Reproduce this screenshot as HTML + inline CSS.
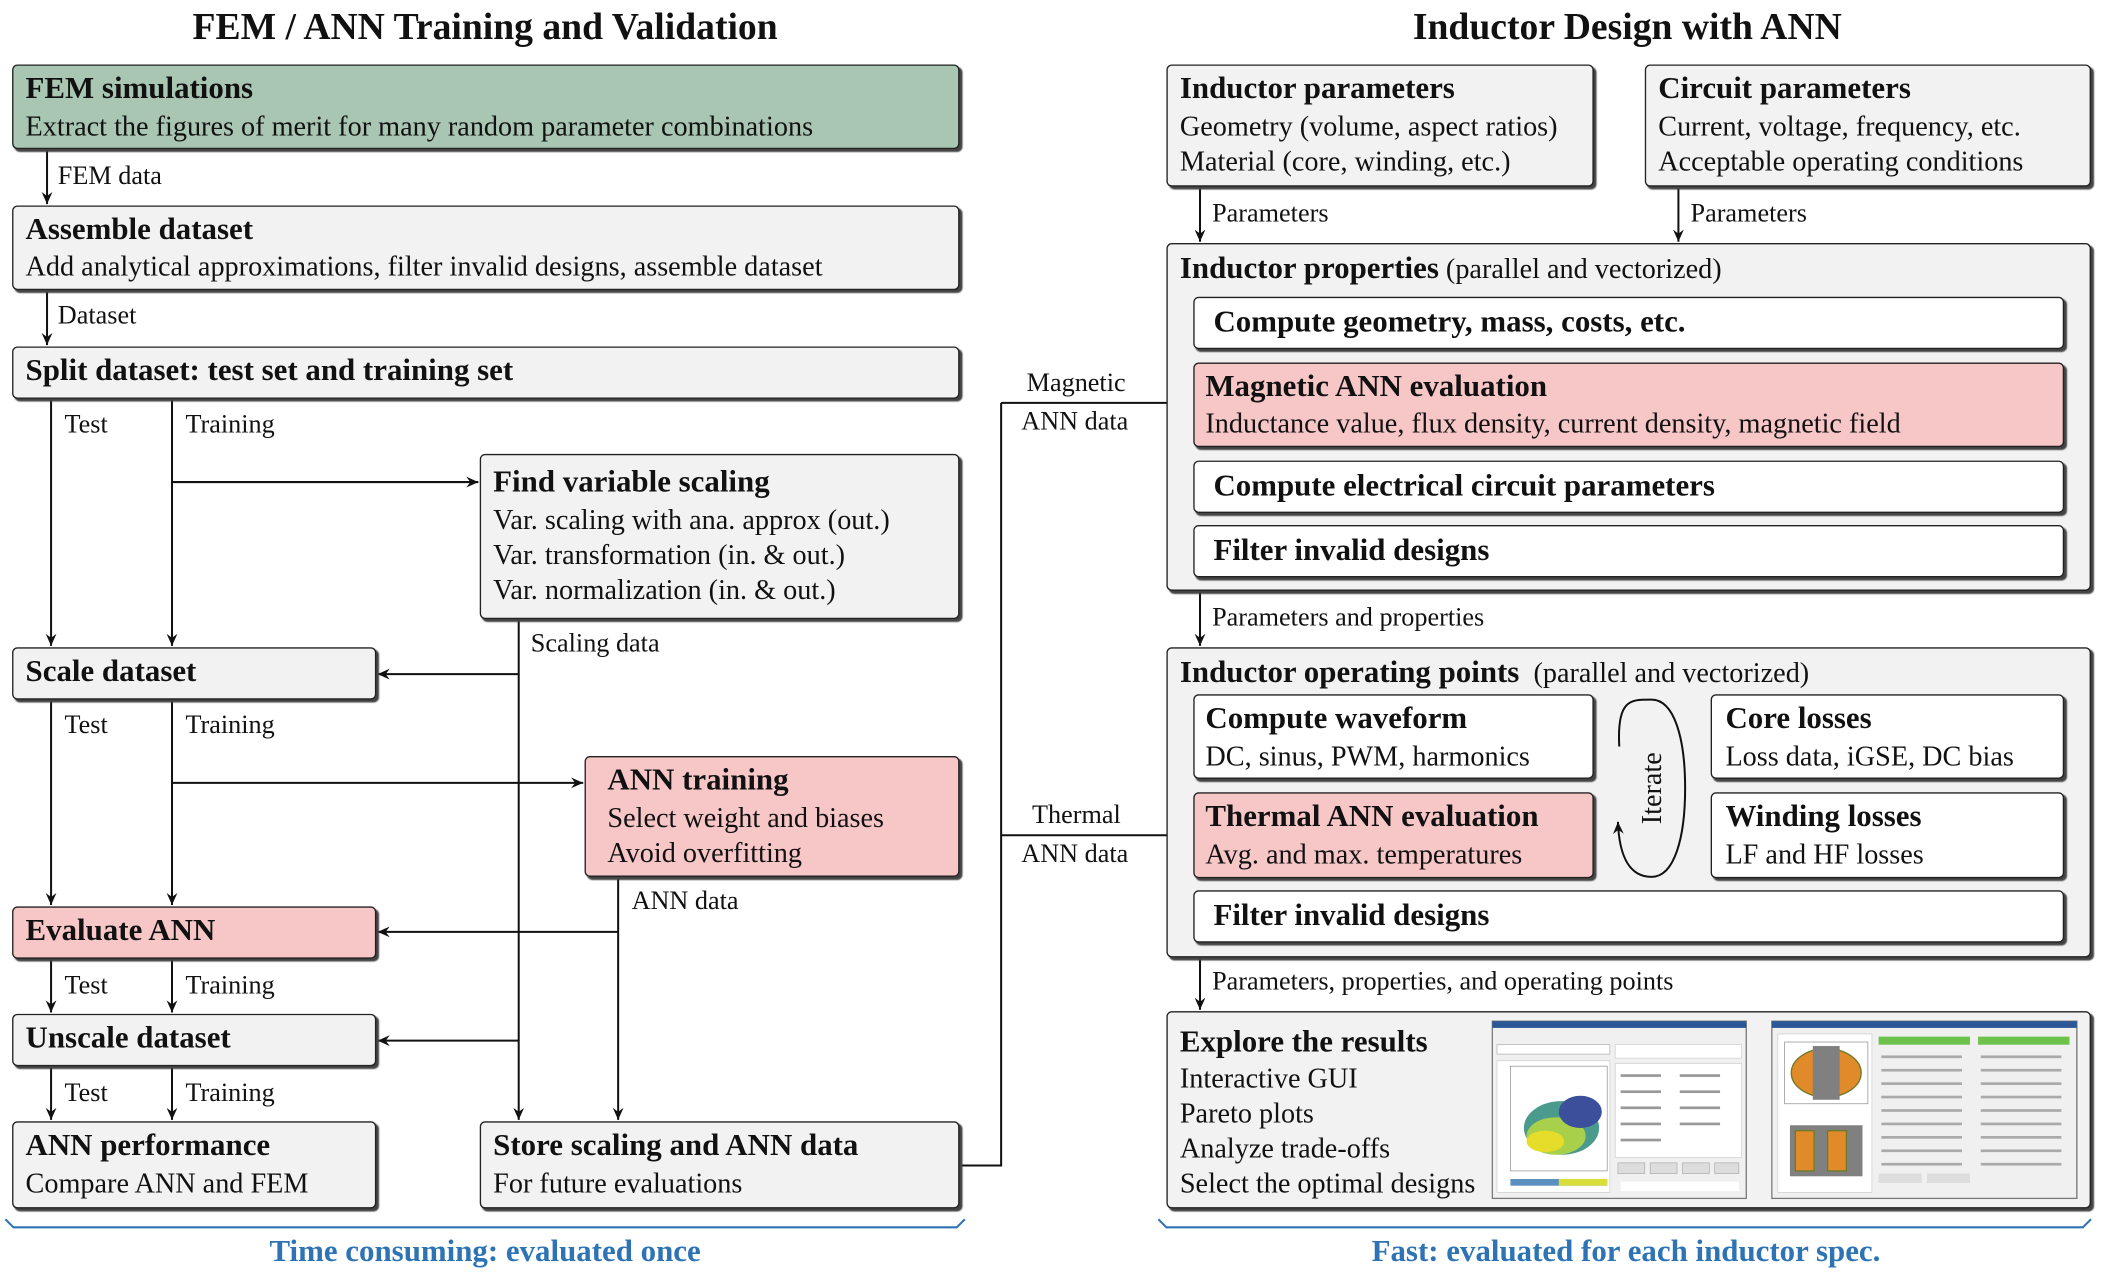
<!DOCTYPE html>
<html><head><meta charset="utf-8"><style>
html,body{margin:0;padding:0;background:#fff;width:2103px;height:1273px;overflow:hidden}
#w{position:absolute;left:0;top:0;width:1565px;height:948px;transform:scale(1.3438,1.3428);transform-origin:0 0;font-family:"Liberation Serif",serif;color:#111}
.b{position:absolute;border:1.5px solid #222;border-radius:4px;box-sizing:border-box;background:#f2f2f2;box-shadow:2px 2px 1px #444}
.g{background:#a9c6b2}.p{background:#f7c6c7}.wh{background:#fff}
.t{position:absolute;white-space:nowrap;font-size:21px;line-height:24px}
.h{font-weight:bold;font-size:23px}
.l{position:absolute;white-space:nowrap;font-size:19.5px;line-height:22px}
.T{position:absolute;font-weight:bold;font-size:28px;white-space:nowrap;text-align:center}
.bl{color:#2e74b5;font-weight:bold;font-size:23px}
svg{position:absolute;left:0;top:0}
</style></head><body><div id="w">
<svg width="1565" height="948" viewBox="0 0 1565 948">
<defs><marker id="a" markerWidth="10" markerHeight="10" refX="9" refY="5" orient="auto" markerUnits="userSpaceOnUse"><path d="M0,1 L9,5 L0,9 L3,5z" fill="#111"/></marker></defs>
<g stroke="#111" stroke-width="1.5" fill="none">
<line x1="35" y1="111" x2="35" y2="152" marker-end="url(#a)"/>
<line x1="35" y1="216" x2="35" y2="257" marker-end="url(#a)"/>
<line x1="38" y1="297" x2="38" y2="481" marker-end="url(#a)"/>
<line x1="128" y1="297" x2="128" y2="481" marker-end="url(#a)"/>
<line x1="128" y1="359" x2="356" y2="359" marker-end="url(#a)"/>
<line x1="386" y1="461" x2="386" y2="834" marker-end="url(#a)"/>
<line x1="386" y1="502" x2="281" y2="502" marker-end="url(#a)"/>
<line x1="386" y1="775" x2="281" y2="775" marker-end="url(#a)"/>
<line x1="38" y1="521" x2="38" y2="674" marker-end="url(#a)"/>
<line x1="128" y1="521" x2="128" y2="674" marker-end="url(#a)"/>
<line x1="128" y1="583" x2="434" y2="583" marker-end="url(#a)"/>
<line x1="460" y1="653" x2="460" y2="834" marker-end="url(#a)"/>
<line x1="460" y1="694" x2="281" y2="694" marker-end="url(#a)"/>
<line x1="38" y1="714" x2="38" y2="754" marker-end="url(#a)"/>
<line x1="128" y1="714" x2="128" y2="754" marker-end="url(#a)"/>
<line x1="38" y1="794" x2="38" y2="834" marker-end="url(#a)"/>
<line x1="128" y1="794" x2="128" y2="834" marker-end="url(#a)"/>
<polyline points="714,868 745,868 745,300"/>
<line x1="745" y1="300" x2="887" y2="300" marker-end="url(#a)"/>
<line x1="745" y1="622" x2="887" y2="622" marker-end="url(#a)"/>
<line x1="893" y1="139" x2="893" y2="180" marker-end="url(#a)"/>
<line x1="1249" y1="139" x2="1249" y2="180" marker-end="url(#a)"/>
<line x1="893" y1="440" x2="893" y2="481" marker-end="url(#a)"/>
<line x1="893" y1="713" x2="893" y2="752" marker-end="url(#a)"/>
</g>
<g stroke="#2e74b5" stroke-width="1.5" fill="none">
<path d="M4,908 L10,914 L712,914 L718,908"/>
<path d="M862,908 L868,914 L1550,914 L1556,908"/>
</g>
</svg>

<div class="T" style="left:0;width:722px;top:5px">FEM / ANN Training and Validation</div>
<div class="T" style="left:860px;width:702px;top:5px">Inductor Design with ANN</div>

<div class="b g" style="left:9px;top:48px;width:705px;height:63px"></div>
<div class="t h" style="left:19px;top:54px">FEM simulations</div>
<div class="t" style="left:19px;top:82px">Extract the figures of merit for many random parameter combinations</div>
<div class="l" style="left:43px;top:121px">FEM data</div>

<div class="b" style="left:9px;top:153px;width:705px;height:63px"></div>
<div class="t h" style="left:19px;top:159px">Assemble dataset</div>
<div class="t" style="left:19px;top:186px">Add analytical approximations, filter invalid designs, assemble dataset</div>
<div class="l" style="left:43px;top:225px">Dataset</div>

<div class="b" style="left:9px;top:258px;width:705px;height:39px"></div>
<div class="t h" style="left:19px;top:264px">Split dataset: test set and training set</div>
<div class="l" style="left:48px;top:306px">Test</div><div class="l" style="left:138px;top:306px">Training</div>

<div class="b" style="left:357px;top:338px;width:357px;height:123px"></div>
<div class="t h" style="left:367px;top:347px">Find variable scaling</div>
<div class="t" style="left:367px;top:375px">Var. scaling with ana. approx (out.)</div>
<div class="t" style="left:367px;top:401px">Var. transformation (in. &amp; out.)</div>
<div class="t" style="left:367px;top:427px">Var. normalization (in. &amp; out.)</div>
<div class="l" style="left:395px;top:469px">Scaling data</div>

<div class="b" style="left:9px;top:482px;width:271px;height:39px"></div>
<div class="t h" style="left:19px;top:488px">Scale dataset</div>
<div class="l" style="left:48px;top:530px">Test</div><div class="l" style="left:138px;top:530px">Training</div>

<div class="b p" style="left:435px;top:563px;width:279px;height:90px"></div>
<div class="t h" style="left:452px;top:569px">ANN training</div>
<div class="t" style="left:452px;top:597px">Select weight and biases</div>
<div class="t" style="left:452px;top:623px">Avoid overfitting</div>
<div class="l" style="left:470px;top:661px">ANN data</div>

<div class="b p" style="left:9px;top:675px;width:271px;height:39px"></div>
<div class="t h" style="left:19px;top:681px">Evaluate ANN</div>
<div class="l" style="left:48px;top:724px">Test</div><div class="l" style="left:138px;top:724px">Training</div>

<div class="b" style="left:9px;top:755px;width:271px;height:39px"></div>
<div class="t h" style="left:19px;top:761px">Unscale dataset</div>
<div class="l" style="left:48px;top:804px">Test</div><div class="l" style="left:138px;top:804px">Training</div>

<div class="b" style="left:9px;top:835px;width:271px;height:65px"></div>
<div class="t h" style="left:19px;top:841px">ANN performance</div>
<div class="t" style="left:19px;top:869px">Compare ANN and FEM</div>

<div class="b" style="left:357px;top:835px;width:357px;height:65px"></div>
<div class="t h" style="left:367px;top:841px">Store scaling and ANN data</div>
<div class="t" style="left:367px;top:869px">For future evaluations</div>

<div class="l" style="left:764px;top:275px">Magnetic</div>
<div class="l" style="left:760px;top:304px">ANN data</div>
<div class="l" style="left:768px;top:597px">Thermal</div>
<div class="l" style="left:760px;top:626px">ANN data</div>

<div class="t bl" style="left:0;width:722px;text-align:center;top:920px">Time consuming: evaluated once</div>
<div class="t bl" style="left:860px;width:700px;text-align:center;top:920px">Fast: evaluated for each inductor spec.</div>

<!-- right -->
<div class="b" style="left:868px;top:48px;width:318px;height:91px"></div>
<div class="t h" style="left:878px;top:54px">Inductor parameters</div>
<div class="t" style="left:878px;top:82px">Geometry (volume, aspect ratios)</div>
<div class="t" style="left:878px;top:108px">Material (core, winding, etc.)</div>
<div class="b" style="left:1224px;top:48px;width:332px;height:91px"></div>
<div class="t h" style="left:1234px;top:54px">Circuit parameters</div>
<div class="t" style="left:1234px;top:82px">Current, voltage, frequency, etc.</div>
<div class="t" style="left:1234px;top:108px">Acceptable operating conditions</div>
<div class="l" style="left:902px;top:149px">Parameters</div>
<div class="l" style="left:1258px;top:149px">Parameters</div>

<div class="b" style="left:868px;top:181px;width:688px;height:259px"></div>
<div class="t" style="left:878px;top:188px"><b style="font-size:23px">Inductor properties</b> (parallel and vectorized)</div>
<div class="b wh" style="left:888px;top:221px;width:648px;height:39px"></div>
<div class="t h" style="left:903px;top:228px">Compute geometry, mass, costs, etc.</div>
<div class="b p" style="left:888px;top:270px;width:648px;height:63px"></div>
<div class="t h" style="left:897px;top:276px">Magnetic ANN evaluation</div>
<div class="t" style="left:897px;top:303px">Inductance value, flux density, current density, magnetic field</div>
<div class="b wh" style="left:888px;top:343px;width:648px;height:39px"></div>
<div class="t h" style="left:903px;top:350px">Compute electrical circuit parameters</div>
<div class="b wh" style="left:888px;top:391px;width:648px;height:39px"></div>
<div class="t h" style="left:903px;top:398px">Filter invalid designs</div>
<div class="l" style="left:902px;top:450px">Parameters and properties</div>

<div class="b" style="left:868px;top:482px;width:688px;height:231px"></div>
<div class="t" style="left:878px;top:489px"><b style="font-size:23px">Inductor operating points</b>&nbsp; (parallel and vectorized)</div>
<div class="b wh" style="left:888px;top:517px;width:298px;height:63px"></div>
<div class="t h" style="left:897px;top:523px">Compute waveform</div>
<div class="t" style="left:897px;top:551px">DC, sinus, PWM, harmonics</div>
<div class="b wh" style="left:1273px;top:517px;width:263px;height:63px"></div>
<div class="t h" style="left:1284px;top:523px">Core losses</div>
<div class="t" style="left:1284px;top:551px">Loss data, iGSE, DC bias</div>
<div class="b p" style="left:888px;top:590px;width:298px;height:64px"></div>
<div class="t h" style="left:897px;top:596px">Thermal ANN evaluation</div>
<div class="t" style="left:897px;top:624px">Avg. and max. temperatures</div>
<div class="b wh" style="left:1273px;top:590px;width:263px;height:64px"></div>
<div class="t h" style="left:1284px;top:596px">Winding losses</div>
<div class="t" style="left:1284px;top:624px">LF and HF losses</div>
<div class="b wh" style="left:888px;top:663px;width:648px;height:39px"></div>
<div class="t h" style="left:903px;top:670px">Filter invalid designs</div>
<svg width="1565" height="948" viewBox="0 0 1565 948">
<defs><marker id="a2" markerWidth="10" markerHeight="10" refX="9" refY="5" orient="auto" markerUnits="userSpaceOnUse"><path d="M0,1 L9,5 L0,9 L3,5z" fill="#111"/></marker></defs>
<path d="M1205,556 C1203,520 1214,521 1229,521 C1246,521 1254,550 1254,587 C1254,624 1246,653 1229,653 C1214,653 1205,640 1204,612" stroke="#111" stroke-width="1.5" fill="none" marker-end="url(#a2)"/>
</svg>
<div class="t" style="left:1189px;top:575px;width:80px;text-align:center;transform:rotate(-90deg);font-size:21px">Iterate</div>
<div class="l" style="left:902px;top:721px">Parameters, properties, and operating points</div>

<div class="b" style="left:868px;top:753px;width:688px;height:147px"></div>
<div class="t h" style="left:878px;top:764px">Explore the results</div>
<div class="t" style="left:878px;top:791px">Interactive GUI</div>
<div class="t" style="left:878px;top:817px">Pareto plots</div>
<div class="t" style="left:878px;top:843px">Analyze trade-offs</div>
<div class="t" style="left:878px;top:869px">Select the optimal designs</div>

<svg style="left:1110px;top:760px" width="190" height="133" viewBox="0 0 190 133">
<rect x="0.5" y="0.5" width="189" height="132" fill="#f0f0f0" stroke="#777"/>
<rect x="0.5" y="0.5" width="189" height="5" fill="#2b5797"/>
<rect x="4" y="18" width="84" height="7" fill="#fff" stroke="#aaa" stroke-width=".5"/>
<rect x="4" y="30" width="84" height="98" fill="#fff" stroke="#ccc" stroke-width=".5"/>
<rect x="14" y="34" width="72" height="78" fill="#fff" stroke="#888" stroke-width=".5"/>
<ellipse cx="52" cy="80" rx="28" ry="20" fill="#4a9a8e"/>
<ellipse cx="48" cy="86" rx="22" ry="14" fill="#a8d04a"/>
<ellipse cx="40" cy="90" rx="14" ry="8" fill="#e6dd2a"/>
<ellipse cx="66" cy="68" rx="16" ry="12" fill="#3b4f9a"/>
<rect x="14" y="118" width="72" height="5" fill="#5a8fc0"/>
<rect x="50" y="118" width="36" height="5" fill="#d8de3a"/>
<rect x="92" y="18" width="94" height="10" fill="#fff" stroke="#ccc" stroke-width=".5"/>
<rect x="92" y="32" width="94" height="70" fill="#fff" stroke="#ccc" stroke-width=".5"/>
<g fill="#999"><rect x="96" y="40" width="30" height="2"/><rect x="140" y="40" width="30" height="2"/><rect x="96" y="52" width="30" height="2"/><rect x="140" y="52" width="30" height="2"/><rect x="96" y="64" width="30" height="2"/><rect x="140" y="64" width="30" height="2"/><rect x="96" y="76" width="30" height="2"/><rect x="140" y="76" width="30" height="2"/><rect x="96" y="88" width="30" height="2"/></g>
<g fill="#ddd" stroke="#aaa" stroke-width=".5"><rect x="94" y="106" width="20" height="8"/><rect x="118" y="106" width="20" height="8"/><rect x="142" y="106" width="20" height="8"/><rect x="166" y="106" width="18" height="8"/></g>
<rect x="96" y="120" width="88" height="7" fill="#fff"/>
</svg>
<svg style="left:1318px;top:760px" width="228" height="133" viewBox="0 0 228 133">
<rect x="0.5" y="0.5" width="227" height="132" fill="#f0f0f0" stroke="#777"/>
<rect x="0.5" y="0.5" width="227" height="5" fill="#2b5797"/>
<rect x="5" y="10" width="70" height="118" fill="#fff" stroke="#ccc" stroke-width=".5"/>
<rect x="10" y="16" width="62" height="46" fill="#fff" stroke="#888" stroke-width=".5"/>
<ellipse cx="41" cy="39" rx="26" ry="18" fill="#e08a2a" stroke="#6e7a2a"/>
<rect x="31" y="19" width="20" height="40" fill="#808080"/>
<rect x="10" y="74" width="62" height="46" fill="#fff"/>
<rect x="14" y="78" width="54" height="38" fill="#808080"/>
<rect x="18" y="82" width="14" height="30" fill="#e08a2a" stroke="#6e7a2a"/>
<rect x="42" y="82" width="14" height="30" fill="#e08a2a" stroke="#6e7a2a"/>
<rect x="80" y="12" width="68" height="6" fill="#6cc24a"/>
<rect x="154" y="12" width="68" height="6" fill="#6cc24a"/>
<g fill="#aaa"><rect x="82" y="26" width="60" height="2"/><rect x="82" y="36" width="60" height="2"/><rect x="82" y="46" width="60" height="2"/><rect x="82" y="56" width="60" height="2"/><rect x="82" y="66" width="60" height="2"/><rect x="82" y="76" width="60" height="2"/><rect x="82" y="86" width="60" height="2"/><rect x="82" y="96" width="60" height="2"/><rect x="82" y="106" width="60" height="2"/>
<rect x="156" y="26" width="60" height="2"/><rect x="156" y="36" width="60" height="2"/><rect x="156" y="46" width="60" height="2"/><rect x="156" y="56" width="60" height="2"/><rect x="156" y="66" width="60" height="2"/><rect x="156" y="76" width="60" height="2"/><rect x="156" y="86" width="60" height="2"/><rect x="156" y="96" width="60" height="2"/><rect x="156" y="106" width="60" height="2"/></g>
<g fill="#ddd"><rect x="80" y="114" width="32" height="7"/><rect x="116" y="114" width="32" height="7"/></g>
</svg>
</div></body></html>
